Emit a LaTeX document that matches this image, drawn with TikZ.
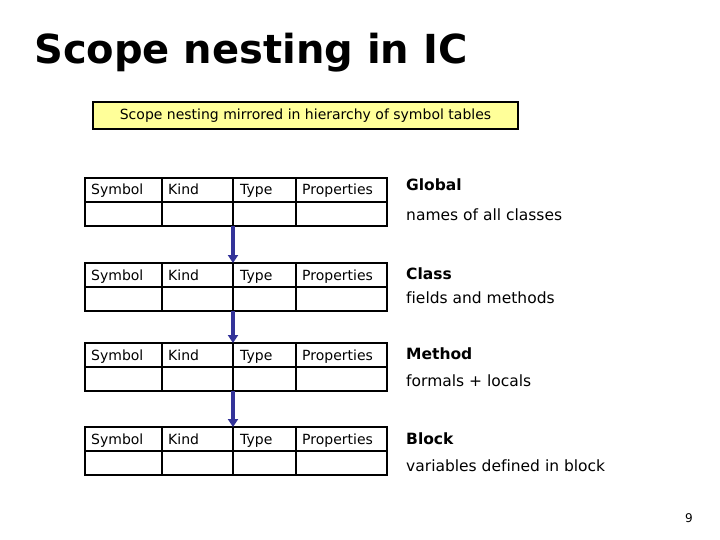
\documentclass[tikz,border=0pt]{standalone}
\usepackage{fontspec}
\setmainfont[Ligatures=NoCommon]{DejaVu Sans}
\usetikzlibrary{arrows.meta}
\definecolor{arrowblue}{HTML}{333399}
\definecolor{noteyellow}{HTML}{FFFF99}
\tikzset{
  gridline/.style={draw=black, line width=2.4pt},
  celltext/.style={anchor=base west, inner sep=0pt, font=\fontsize{14}{16}\selectfont},
  scopename/.style={anchor=base west, inner sep=0pt, font=\bfseries\fontsize{15.5}{18}\selectfont},
  scopedesc/.style={anchor=base west, inner sep=0pt, font=\fontsize{15.5}{18}\selectfont},
  link/.style={draw=arrowblue, line width=3.5pt, -{Triangle[length=8pt,width=10pt]}},
}
\begin{document}
\begin{tikzpicture}[x=1pt,y=-1pt]
\useasboundingbox[fill=white] (0,0) rectangle (720,540);
% title
\node[anchor=base west, inner sep=0pt, font=\bfseries\fontsize{40}{46}\selectfont] (title) at (34,64) {Scope nesting in IC};
% yellow note
\node[draw=black, line width=1.5pt, fill=noteyellow, minimum width=425pt, minimum height=27pt, inner sep=0pt, font=\fontsize{14}{16}\selectfont] (note) at (305.5,115.5) {Scope nesting mirrored in hierarchy of symbol tables};
% tables
\foreach \t/\y in {1/178, 2/263, 3/343, 4/427}{
  \draw[gridline] (85,\y) rectangle (387,\y+48);
  \draw[gridline] (85,\y+24) -- (387,\y+24);
  \foreach \cx in {162,233,296}{
    \draw[gridline] (\cx,\y) -- (\cx,\y+48);
  }
  \coordinate (t\t top) at (233,\y);
  \coordinate (t\t bot) at (233,\y+48);
  \node[celltext] (t\t s) at (91,\y+17) {Symbol};
  \node[celltext] (t\t k) at (168,\y+17) {Kind};
  \node[celltext] (t\t ty) at (240,\y+17) {Type};
  \node[celltext] (t\t p) at (302,\y+17) {Properties};
}
% arrows
\draw[link] (t1bot) -- (t2top);
\draw[link] (t2bot) -- (t3top);
\draw[link] (t3bot) -- (t4top);
% labels
\node[scopename] (g) at (406,191) {Global};
\node[scopedesc] (gd) at (406,221) {names of all classes};
\node[scopename] (c) at (406,279) {Class};
\node[scopedesc] (cd) at (406,303) {fields and methods};
\node[scopename] (m) at (406,359) {Method};
\node[scopedesc] (md) at (406,386) {formals + locals};
\node[scopename] (b) at (406,444) {Block};
\node[scopedesc] (bd) at (406,471) {variables defined in block};
% page number
\node[inner sep=0pt, font=\fontsize{12}{14}\selectfont] (pg) at (689,518) {9};
\end{tikzpicture}
\end{document}
